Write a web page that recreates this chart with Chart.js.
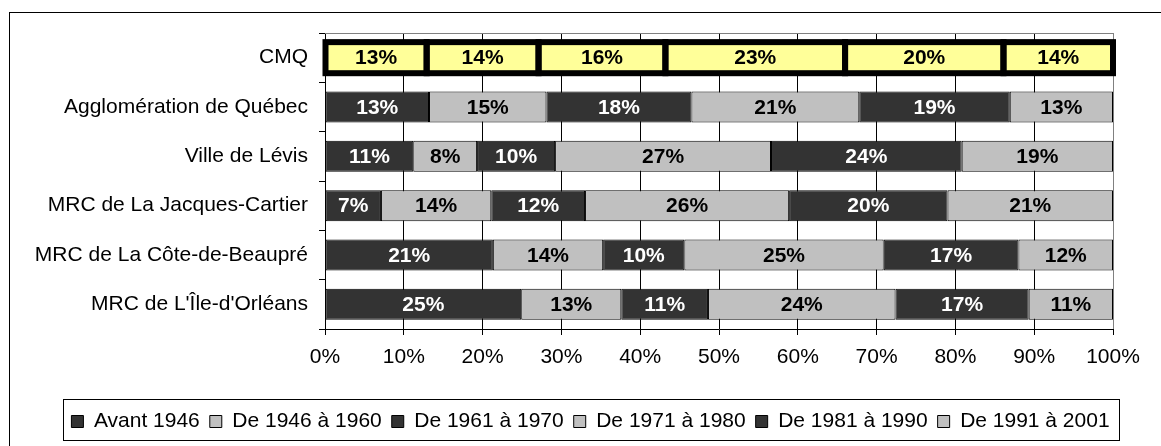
<!DOCTYPE html>
<html>
<head>
<meta charset="utf-8">
<script src="https://cdn.jsdelivr.net/npm/chart.js@4.4.1/dist/chart.umd.min.js"></script>
<style>
  body { margin: 0; background: #fff; }
  .wrap { width: 1161px; height: 446px; position: relative; }
</style>
</head>
<body>
<div class="wrap"><canvas id="myChart"></canvas></div>
<script>
// data
const categories = ['CMQ', 'Agglomération de Québec', 'Ville de Lévis', 'MRC de La Jacques-Cartier', 'MRC de La Côte-de-Beaupré', "MRC de L'Île-d'Orléans"];
const series = ['Avant 1946', 'De 1946 à 1960', 'De 1961 à 1970', 'De 1971 à 1980', 'De 1981 à 1990', 'De 1991 à 2001'];
const avant1946 = [12.9, 13.2, 11.2, 7.1, 21.3, 24.9];
const de1946a1960 = [14.2, 14.9, 8.1, 14.0, 14.0, 12.7];
const de1961a1970 = [16.1, 18.4, 9.9, 11.9, 10.3, 11.0];
const de1971a1980 = [22.8, 21.3, 27.4, 25.9, 25.3, 23.8];
const de1981a1990 = [20.1, 19.1, 24.2, 20.1, 17.1, 16.9];
const de1991a2001 = [13.9, 13.1, 19.2, 21.0, 12.0, 10.7];
const xTicks = [0, 10, 20, 30, 40, 50, 60, 70, 80, 90, 100];

const seriesValues = [avant1946, de1946a1960, de1961a1970, de1971a1980, de1981a1990, de1991a2001];
const seriesColors = ['#333333', '#c0c0c0', '#333333', '#c0c0c0', '#333333', '#c0c0c0'];
const highlight = '#ffff99';
const FONT = '"Liberation Sans", Arial, sans-serif';

Chart.defaults.font.family = FONT;
Chart.defaults.font.size = 21;
Chart.defaults.color = '#000';

// percent labels, thick outline on the CMQ row, frame and legend box
const barLabels = {
    id: 'barLabels',
    afterLayout(chart) {
        // legend sits a bit right of centre in the original
        chart.legend.left += 29;
        chart.legend.right += 29;
    },
    beforeDatasetsDraw(chart) {
        const a = chart.chartArea;
        const ctx = chart.ctx;
        ctx.save();
        ctx.strokeStyle = '#808080';
        ctx.lineWidth = 1;
        ctx.beginPath();
        ctx.moveTo(a.left, a.top + 0.5);
        ctx.lineTo(a.right + 0.5, a.top + 0.5);
        ctx.lineTo(a.right + 0.5, a.bottom);
        ctx.stroke();
        ctx.restore();
    },
    afterDatasetsDraw(chart) {
        const ctx = chart.ctx;
        ctx.save();
        chart.data.datasets.forEach((ds, i) => {
            const p = chart.getDatasetMeta(i).data[0].getProps(['x', 'y', 'base', 'height'], true);
            ctx.lineWidth = 6;
            ctx.strokeStyle = '#000';
            ctx.strokeRect(p.base, p.y - p.height / 2, p.x - p.base, p.height);
        });
        ctx.font = 'bold 21px ' + FONT;
        ctx.textAlign = 'center';
        ctx.textBaseline = 'middle';
        chart.data.datasets.forEach((ds, i) => {
            chart.getDatasetMeta(i).data.forEach((bar, j) => {
                const p = bar.getProps(['x', 'y', 'base'], true);
                ctx.fillStyle = (j > 0 && i % 2 === 0) ? '#fff' : '#000';
                ctx.fillText(Math.round(ds.data[j]) + '%', (p.x + p.base) / 2, p.y + 1);
            });
        });
        ctx.restore();
    },
    afterDraw(chart) {
        const ctx = chart.ctx;
        ctx.save();
        ctx.strokeStyle = '#000';
        ctx.lineWidth = 1;
        // outer frame
        ctx.strokeRect(9.5, 12.5, 1300, 600);
        // legend box
        const hb = chart.legend.legendHitBoxes;
        if (hb && hb.length) {
            const left = Math.min(...hb.map(h => h.left));
            const right = Math.max(...hb.map(h => h.left + h.width));
            const top = hb[0].top;
            ctx.strokeRect(Math.round(left - 8) + 0.5, Math.round(top - 12) + 0.5, Math.round(right - left + 18), 41);
        }
        ctx.restore();
    }
};

const ctx = document.getElementById('myChart').getContext('2d');
const myChart = new Chart(ctx, {
    type: 'bar',
    data: {
        labels: categories,
        datasets: series.map((name, i) => ({
            label: name,
            data: seriesValues[i],
            backgroundColor: categories.map((c, j) => j === 0 ? highlight : seriesColors[i]),
            borderColor: '#000',
            borderWidth: categories.map((c, j) => j === 0 ? 0 : 1),
            borderSkipped: false,
            categoryPercentage: 1,
            barPercentage: 0.63
        }))
    },
    options: {
        indexAxis: 'y',
        responsive: true,
        maintainAspectRatio: false,
        animation: false,
        layout: { padding: { left: 10, right: 48, top: 33, bottom: 4 } },
        scales: {
            x: {
                stacked: true,
                min: 0,
                max: 100,
                afterBuildTicks: s => { s.ticks = xTicks.map(v => ({ value: v })); },
                ticks: { callback: v => v + '%', padding: 10, maxRotation: 0 },
                grid: { color: c => c.index === 10 ? '#808080' : '#000', tickColor: '#000', tickLength: 6 },
                border: { color: '#000' },
                afterFit: s => { s.height = s.chart.height - 4 - s.chart.legend.height - 329; }
            },
            y: {
                stacked: true,
                ticks: { padding: 11 },
                grid: { drawOnChartArea: false, color: '#000', tickLength: 6 },
                border: { color: '#000' },
                afterFit: s => { s.width = 315; }
            }
        },
        plugins: {
            legend: {
                position: 'bottom',
                labels: {
                    boxWidth: 12,
                    boxHeight: 12,
                    padding: 10,
                    generateLabels: () => series.map((name, i) => ({
                        text: name,
                        fillStyle: seriesColors[i],
                        strokeStyle: '#000',
                        lineWidth: 1,
                        datasetIndex: i,
                        hidden: false
                    }))
                }
            },
            tooltip: { enabled: false }
        }
    },
    plugins: [barLabels]
});
</script>
</body>
</html>
